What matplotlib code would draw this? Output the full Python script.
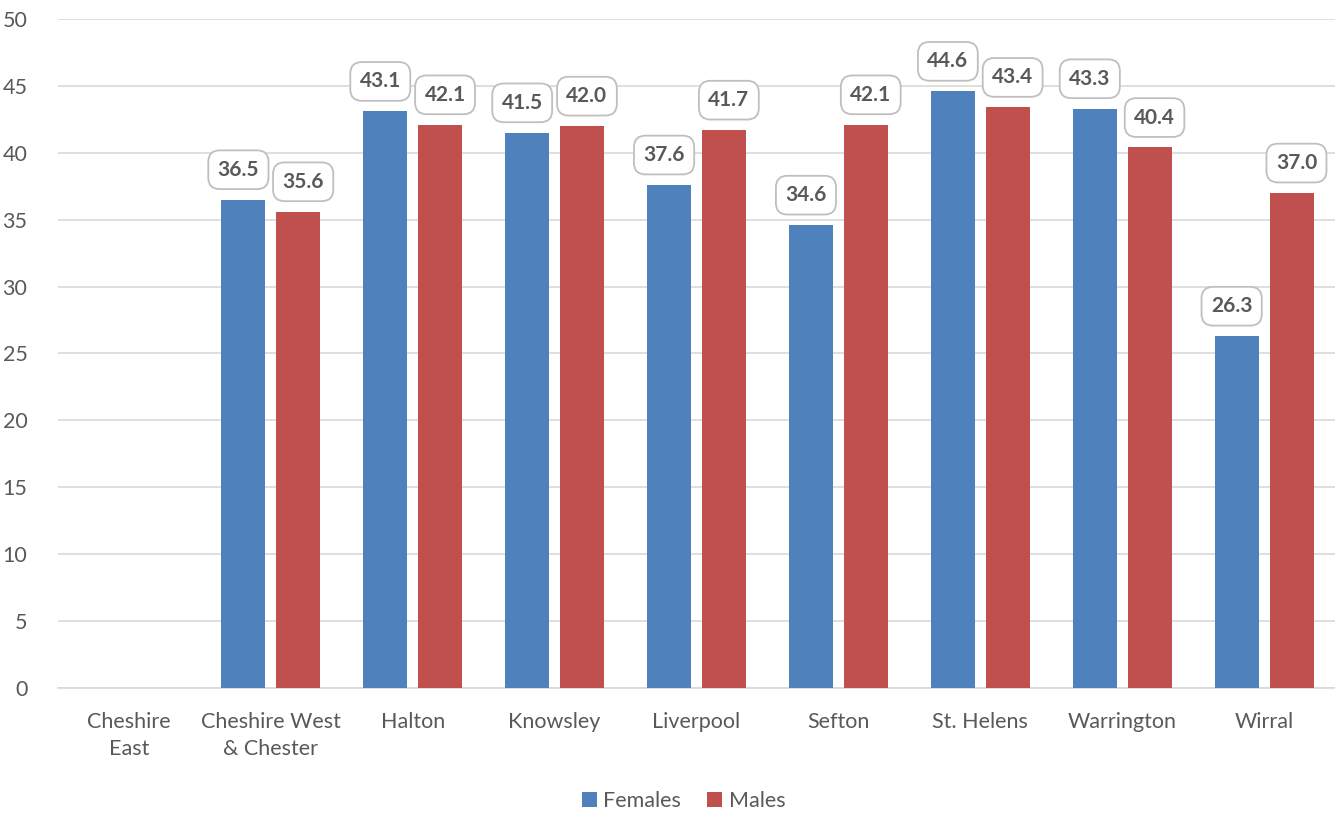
import numpy as np
import matplotlib
matplotlib.use("Agg")
import matplotlib.pyplot as plt

categories = ["Cheshire\nEast", "Cheshire West\n& Chester", "Halton", "Knowsley",
              "Liverpool", "Sefton", "St. Helens", "Warrington", "Wirral"]
females = [np.nan, 36.5, 43.1, 41.5, 37.6, 34.6, 44.6, 43.3, 26.3]
males = [np.nan, 35.6, 42.1, 42.0, 41.7, 42.1, 43.4, 40.4, 37.0]
yticks = [0, 5, 10, 15, 20, 25, 30, 35, 40, 45, 50]

plt.rcParams['font.family'] = ['Lato', 'DejaVu Sans']
TXT = '#595959'
BLUE = '#4F81BD'
RED = '#C0504D'

fig = plt.figure(figsize=(13.35, 8.14), dpi=100)
ax = fig.add_axes([0.0434, 0.1548, 0.9566, 0.8219])

x = np.arange(len(categories))
w = 0.31
off = 0.194
ax.bar(x - off, females, w, color=BLUE, label='Females', zorder=3)
ax.bar(x + off, males, w, color=RED, label='Males', zorder=3)

for xs, vals, dx in ((x - off, females, -3.5), (x + off, males, 3.5)):
    for xi, v in zip(xs, vals):
        if np.isnan(v):
            continue
        ax.annotate(f"{v:.1f}", (xi, v), xytext=(dx, 21.5), textcoords='offset points',
                    ha='center', va='center', fontsize=15, fontweight='bold', color=TXT,
                    bbox=dict(boxstyle='round,pad=0.45,rounding_size=0.55', fc='white',
                              ec='#BFBFBF', lw=1.3), zorder=4)

ax.set_xlim(-0.5, len(categories) - 0.5)
ax.set_ylim(0, 50)
ax.set_yticks(yticks)
ax.set_xticks(x)
ax.set_xticklabels(categories, fontsize=15.5, color=TXT, linespacing=1.45)
ax.tick_params(axis='y', labelsize=15.5, labelcolor=TXT, length=0, pad=22)
ax.tick_params(axis='x', length=0, pad=17)
ax.grid(axis='y', color='#D9D9D9', lw=1.2, zorder=0)
for s in ['top', 'right', 'left']:
    ax.spines[s].set_visible(False)
ax.spines['bottom'].set_color('#D9D9D9')
ax.spines['bottom'].set_linewidth(1.2)

leg = fig.legend(loc='center', bbox_to_anchor=(0.512, 0.016), ncol=2, frameon=False,
                 fontsize=15.5, handlelength=0.7, handleheight=0.7, handletextpad=0.3,
                 columnspacing=1.2)
for t in leg.get_texts():
    t.set_color(TXT)

fig.savefig('out.png', dpi=100)
